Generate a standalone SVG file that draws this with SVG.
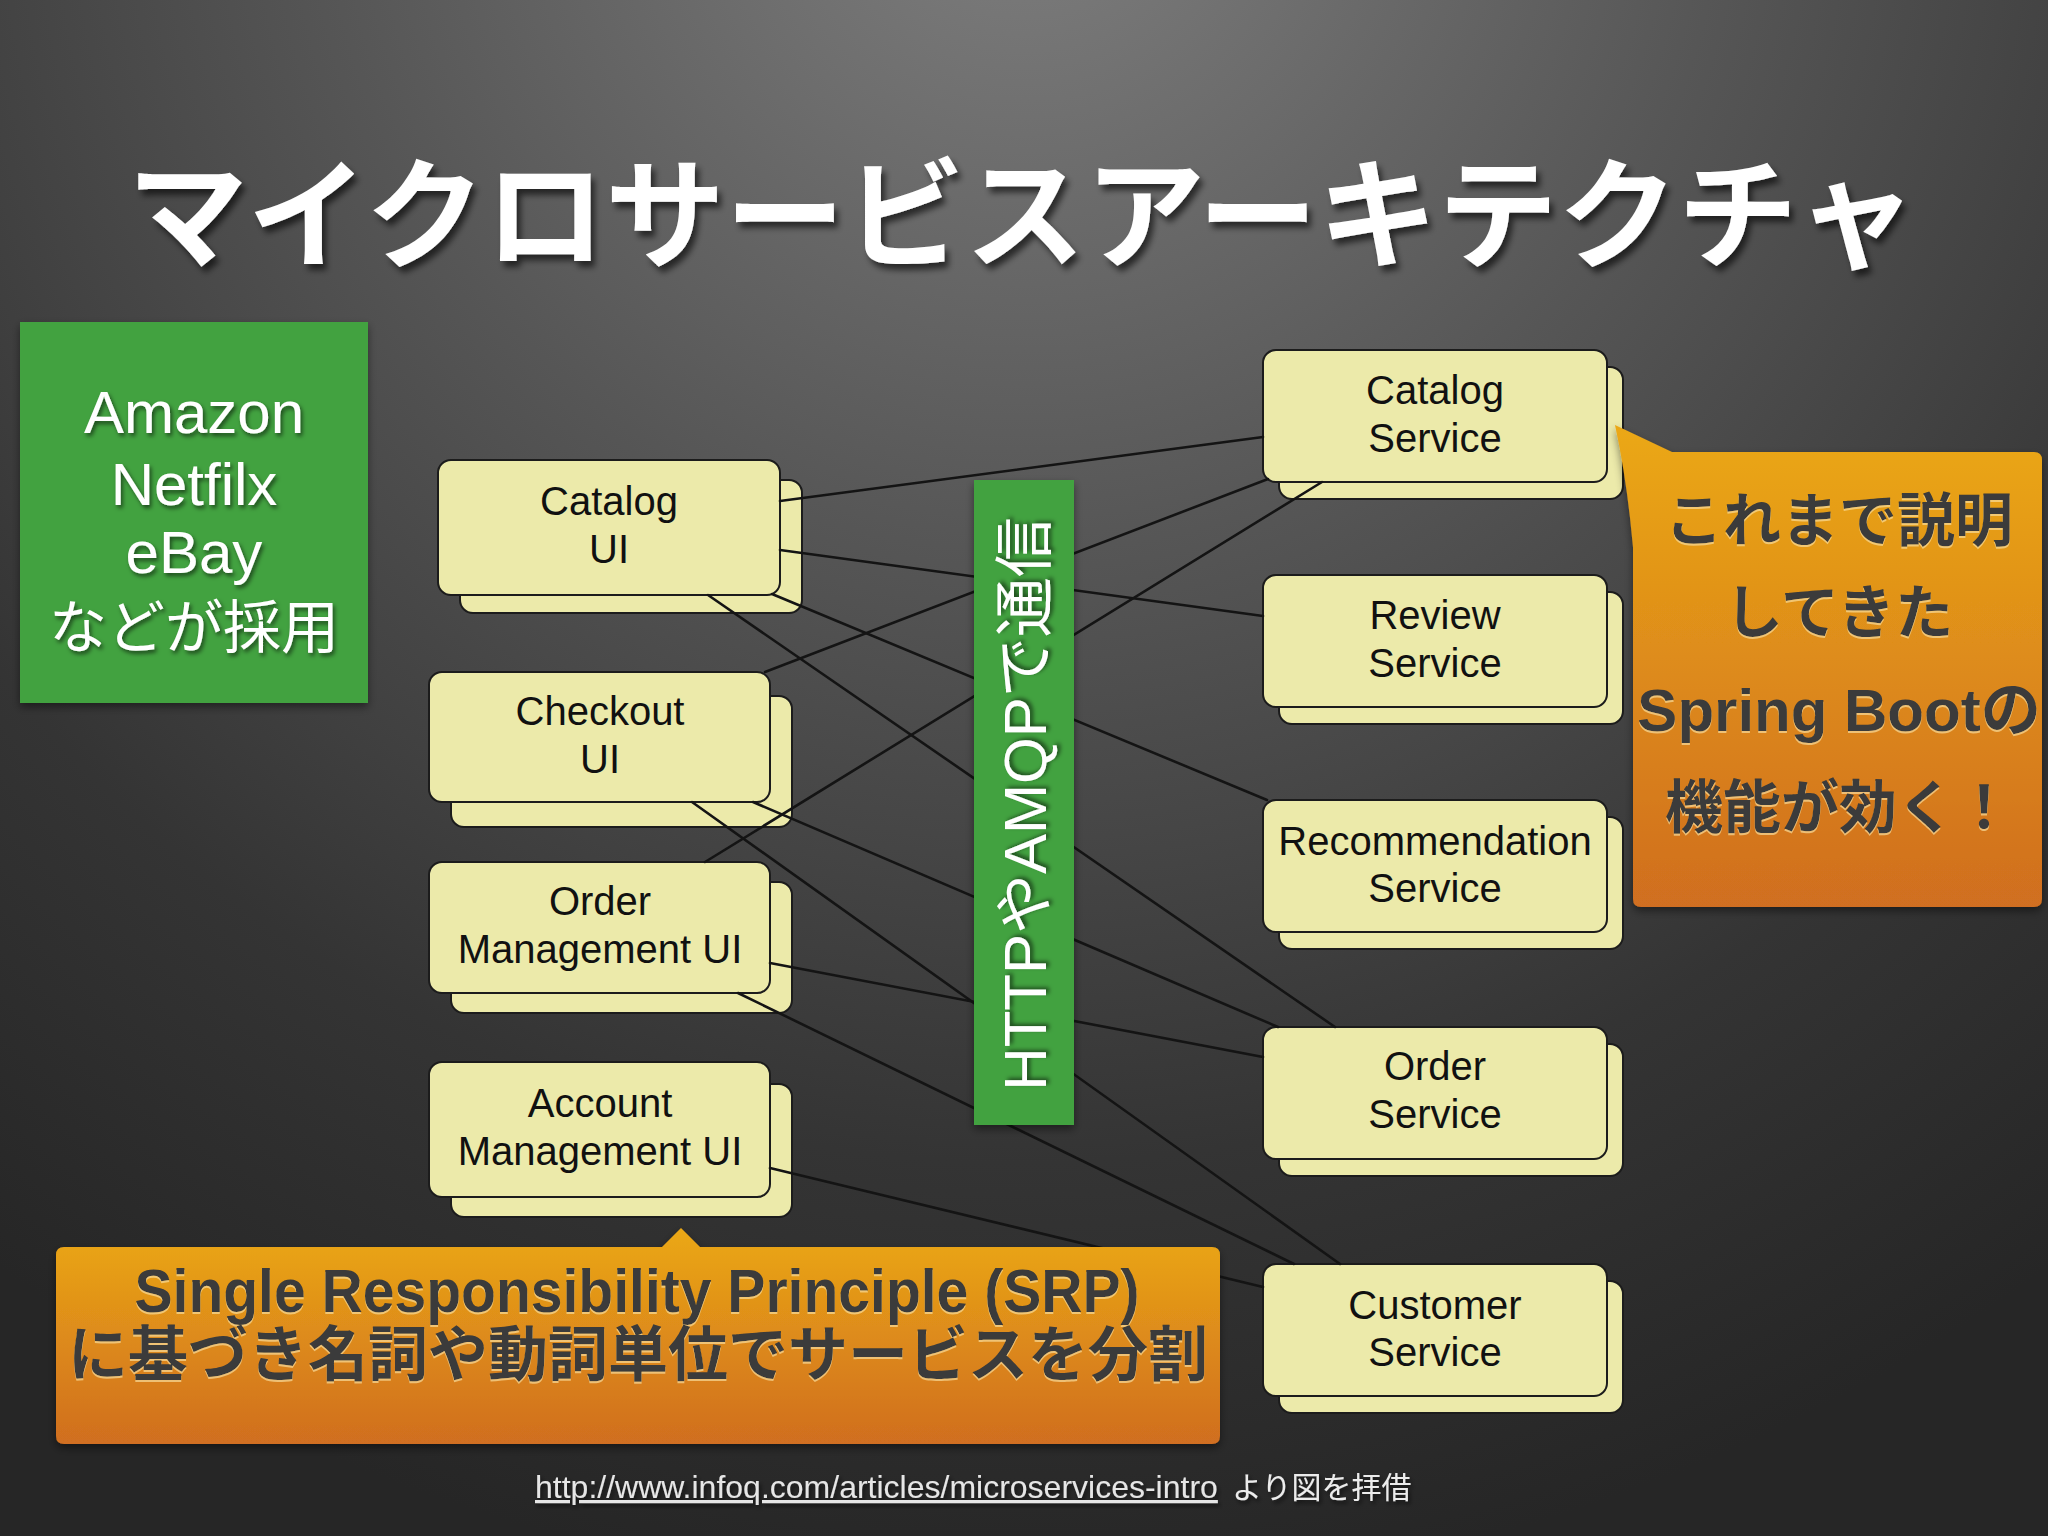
<svg xmlns="http://www.w3.org/2000/svg" width="2048" height="1536" viewBox="0 0 2048 1536">
<defs>
  <radialGradient id="bg" gradientUnits="userSpaceOnUse" cx="1024" cy="-150" r="1750">
    <stop offset="0" stop-color="#808080"/>
    <stop offset="0.4" stop-color="#565656"/>
    <stop offset="0.75" stop-color="#343434"/>
    <stop offset="1" stop-color="#262626"/>
  </radialGradient>
  <linearGradient id="orange" x1="0" y1="0" x2="0" y2="1">
    <stop offset="0" stop-color="#EBA815"/>
    <stop offset="1" stop-color="#D06E20"/>
  </linearGradient>
  <filter id="tshadow" x="-10%" y="-30%" width="120%" height="160%">
    <feDropShadow dx="4" dy="6" stdDeviation="3" flood-color="#000" flood-opacity="0.6"/>
  </filter>
  <filter id="sshadow" x="-10%" y="-30%" width="120%" height="160%">
    <feDropShadow dx="2" dy="3" stdDeviation="2" flood-color="#000" flood-opacity="0.55"/>
  </filter>
  <filter id="boxshadow" x="-10%" y="-10%" width="120%" height="125%">
    <feDropShadow dx="0" dy="4" stdDeviation="4" flood-color="#000" flood-opacity="0.45"/>
  </filter>
  <filter id="emboss" x="-5%" y="-20%" width="110%" height="140%">
    <feDropShadow dx="0" dy="2" stdDeviation="0.6" flood-color="#f8dc9a" flood-opacity="0.7"/>
  </filter>
</defs>
<style>
  .card{fill:#ECEAAA;stroke:#1c1c1c;stroke-width:2}
  .lbl{font-family:"Liberation Sans",Arial,sans-serif;font-size:40px;fill:#111;text-anchor:middle}
  .conn line{stroke:#141414;stroke-width:2.6;stroke-linecap:round}
  .green{fill:#42A23F}
  .wtxt{font-family:"Liberation Sans","Noto Sans CJK JP",sans-serif;fill:#fff;text-anchor:middle}
  .otxt{font-family:"Liberation Sans","Noto Sans CJK JP",sans-serif;fill:#3a3a3a;text-anchor:middle;font-weight:bold}
</style>

<rect x="0" y="0" width="2048" height="1536" fill="url(#bg)"/>

<text id="title" x="1022" y="259" font-family="'Noto Sans CJK JP',sans-serif" font-size="120" font-weight="bold" fill="#fff" text-anchor="middle" filter="url(#tshadow)">マイクロサービスアーキテクチャ</text>

<g id="adopters">
  <rect class="green" x="20" y="322" width="348" height="381" filter="url(#boxshadow)"/>
  <g class="wtxt" filter="url(#sshadow)">
    <text x="194" y="433" font-size="60">Amazon</text>
    <text x="194" y="505" font-size="60">Netfilx</text>
    <text x="194" y="573" font-size="60">eBay</text>
    <text x="194" y="648" font-size="58" font-family="'Noto Sans CJK JP',sans-serif">などが採用</text>
  </g>
</g>

<g id="catalog-ui">
  <rect class="card" x="460" y="480" width="342" height="133" rx="13"/>
  <rect class="card" x="438" y="460" width="342" height="135" rx="13"/>
  <text class="lbl" x="609" y="515">Catalog</text>
  <text class="lbl" x="609" y="563">UI</text>
</g>
<g id="checkout-ui">
  <rect class="card" x="451" y="696" width="341" height="131" rx="13"/>
  <rect class="card" x="429" y="672" width="341" height="130" rx="13"/>
  <text class="lbl" x="600" y="725">Checkout</text>
  <text class="lbl" x="600" y="773">UI</text>
</g>
<g id="order-management-ui">
  <rect class="card" x="451" y="882" width="341" height="131" rx="13"/>
  <rect class="card" x="429" y="862" width="341" height="131" rx="13"/>
  <text class="lbl" x="600" y="915">Order</text>
  <text class="lbl" x="600" y="963">Management UI</text>
</g>
<g id="account-management-ui">
  <rect class="card" x="451" y="1084" width="341" height="133" rx="13"/>
  <rect class="card" x="429" y="1062" width="341" height="135" rx="13"/>
  <text class="lbl" x="600" y="1117">Account</text>
  <text class="lbl" x="600" y="1165">Management UI</text>
</g>

<g id="catalog-service">
  <rect class="card" x="1279" y="367" width="344" height="132" rx="13"/>
  <rect class="card" x="1263" y="350" width="344" height="132" rx="13"/>
  <text class="lbl" x="1435" y="404">Catalog</text>
  <text class="lbl" x="1435" y="452">Service</text>
</g>
<g id="review-service">
  <rect class="card" x="1279" y="592" width="344" height="132" rx="13"/>
  <rect class="card" x="1263" y="575" width="344" height="132" rx="13"/>
  <text class="lbl" x="1435" y="629">Review</text>
  <text class="lbl" x="1435" y="677">Service</text>
</g>
<g id="recommendation-service">
  <rect class="card" x="1279" y="817" width="344" height="132" rx="13"/>
  <rect class="card" x="1263" y="800" width="344" height="132" rx="13"/>
  <text class="lbl" x="1435" y="855">Recommendation</text>
  <text class="lbl" x="1435" y="902">Service</text>
</g>
<g id="order-service">
  <rect class="card" x="1279" y="1044" width="344" height="132" rx="13"/>
  <rect class="card" x="1263" y="1027" width="344" height="132" rx="13"/>
  <text class="lbl" x="1435" y="1080">Order</text>
  <text class="lbl" x="1435" y="1128">Service</text>
</g>
<g id="customer-service">
  <rect class="card" x="1279" y="1281" width="344" height="132" rx="13"/>
  <rect class="card" x="1263" y="1264" width="344" height="132" rx="13"/>
  <text class="lbl" x="1435" y="1319">Customer</text>
  <text class="lbl" x="1435" y="1366">Service</text>
</g>

<g id="connectors" class="conn">
  <line x1="780" y1="501" x2="1263" y2="437"/>
  <line x1="780" y1="550" x2="1263" y2="616"/>
  <line x1="772" y1="594" x2="1267" y2="800"/>
  <line x1="708" y1="595" x2="1335" y2="1027"/>
  <line x1="765" y1="672" x2="1268" y2="479"/>
  <line x1="753" y1="802" x2="1278" y2="1027"/>
  <line x1="692" y1="802" x2="1340" y2="1264"/>
  <line x1="705" y1="862" x2="1322" y2="482"/>
  <line x1="770" y1="963" x2="1263" y2="1057"/>
  <line x1="738" y1="993" x2="1294" y2="1264"/>
  <line x1="770" y1="1168" x2="1263" y2="1287"/>
</g>

<g id="protocol-bar">
  <rect class="green" x="974" y="480" width="100" height="645" filter="url(#boxshadow)"/>
  <text class="wtxt" transform="translate(1046,804) rotate(-90)" x="0" y="0" font-size="60" filter="url(#sshadow)">HTTPやAMQPで通信</text>
</g>

<g id="spring-callout">
  <path d="M1615,425 L1672,452 L2034,452 Q2042,452 2042,460 L2042,899 Q2042,907 2034,907 L1641,907 Q1633,907 1633,899 L1633,547 Q1627,480 1615,425 Z" fill="url(#orange)" filter="url(#boxshadow)"/>
  <g class="otxt" filter="url(#emboss)">
    <text x="1839" y="541" font-size="58">これまで説明</text>
    <text x="1839" y="633" font-size="58">してきた</text>
    <text x="1839" y="731" font-size="60">Spring Bootの</text>
    <text x="1839" y="828" font-size="58">機能が効く！</text>
  </g>
</g>

<g id="srp-callout">
  <path d="M64,1247 L662,1247 L681,1228 L700,1247 L1212,1247 Q1220,1247 1220,1255 L1220,1436 Q1220,1444 1212,1444 L64,1444 Q56,1444 56,1436 L56,1255 Q56,1247 64,1247 Z" fill="url(#orange)" filter="url(#boxshadow)"/>
  <g class="otxt" filter="url(#emboss)">
    <text x="637" y="1312" font-size="62" textLength="1005" lengthAdjust="spacingAndGlyphs">Single Responsibility Principle (SRP)</text>
    <text x="638" y="1376" font-size="60">に基づき名詞や動詞単位でサービスを分割</text>
  </g>
</g>

<g id="source" filter="url(#sshadow)">
  <text x="535" y="1498" font-family="'Liberation Sans',Arial,sans-serif" font-size="32" fill="#e6e6e6" text-decoration="underline">http://www.infoq.com/articles/microservices-intro</text>
  <text x="1232" y="1498" font-family="'Noto Sans CJK JP',sans-serif" font-size="30" fill="#ececec">より図を拝借</text>
</g>
</svg>
